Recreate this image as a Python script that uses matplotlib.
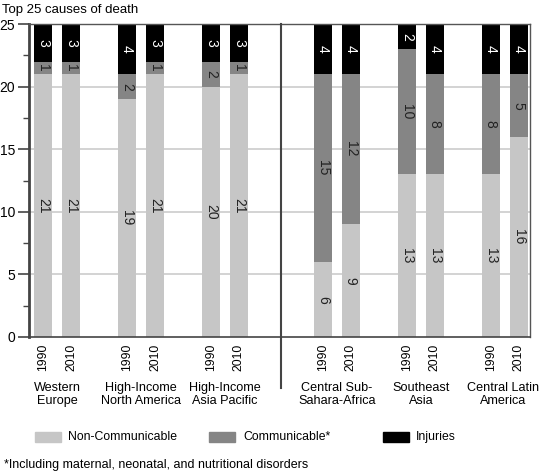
import matplotlib
matplotlib.use("Agg")
import matplotlib.pyplot as plt
from matplotlib.patches import Rectangle
from matplotlib.lines import Line2D
from matplotlib.ticker import MultipleLocator

plt.rcParams['font.family'] = ['Liberation Sans', 'DejaVu Sans']

regions = ["Western\nEurope", "High-Income\nNorth America", "High-Income\nAsia Pacific",
           "Central Sub-\nSahara-Africa", "Southeast\nAsia", "Central Latin\nAmerica"]
years = ["1990", "2010"]
non_comm = [21, 21, 19, 21, 20, 21, 6, 9, 13, 13, 13, 16]
comm = [1, 1, 2, 1, 2, 1, 15, 12, 10, 8, 8, 5]
injuries = [3, 3, 4, 3, 3, 3, 4, 4, 2, 4, 4, 4]
series_names = ["Non-Communicable", "Communicable*", "Injuries"]
colors = ["#c6c6c6", "#858585", "#000000"]
text_colors = ["#222222", "#222222", "#ffffff"]

positions = [0, 1, 3, 4, 6, 7, 10, 11, 13, 14, 16, 17]
group_centers = [0.5, 3.5, 6.5, 10.5, 13.5, 16.45]

fig = plt.figure(figsize=(5.4, 4.75), dpi=100)
ax = fig.add_axes([29/540, 1-337/475, (530-29)/540, (337-24)/475])

bottoms = [0]*len(positions)
for vals, c, tc in zip([non_comm, comm, injuries], colors, text_colors):
    ax.bar(positions, vals, width=0.65, bottom=bottoms, color=c, zorder=2)
    for x, v, b in zip(positions, vals, bottoms):
        ax.text(x, b + v/2, str(v), rotation=-90, ha='center', va='center',
                color=tc, fontsize=10, zorder=3)
    bottoms = [b + v for b, v in zip(bottoms, vals)]

ax.set_xlim(-0.5, 17.4)
ax.set_ylim(0, 25)
ax.yaxis.set_major_locator(MultipleLocator(5))
ax.yaxis.set_minor_locator(MultipleLocator(2.5))
for y in [5, 10, 15, 20]:
    ax.axhline(y, color="#cccccc", lw=1.2, zorder=1)

ax.set_xticks(positions)
ax.set_xticklabels(years * 6, rotation=90, fontsize=8.8)
ax.tick_params(axis='x', length=0, pad=5)
ax.tick_params(axis='y', which='major', length=8, width=1.2, color="#444444", labelsize=10, pad=2)
ax.tick_params(axis='y', which='minor', length=4, width=1, color="#444444")

ax.spines['left'].set_linewidth(2)
ax.spines['left'].set_color("#444444")
ax.spines['bottom'].set_linewidth(1.2)
ax.spines['bottom'].set_color("#444444")
for s in ['top', 'right']:
    ax.spines[s].set_linewidth(1)
    ax.spines[s].set_color("#555555")

# separator line
sep = Line2D([8.5, 8.5], [25, -4.05], color="#444444", lw=1.5, clip_on=False, zorder=4)
ax.add_line(sep)

# group labels
for gx, name in zip(group_centers, regions):
    ax.text(gx, -3.6, name, ha='center', va='top', fontsize=9.1, linespacing=1.12,
            transform=ax.transData)

fig.text(2/540, 1-10/475, "Top 25 causes of death", fontsize=9.5, ha='left', va='center')

# legend
leg_y = 1 - 437/475
for px, tx, c, name in zip([35, 209, 383], [68, 243, 416], colors, series_names):
    fig.patches.append(Rectangle((px/540, leg_y - 5/475), 26/540, 10/475,
                                 transform=fig.transFigure, color=c))
    fig.text(tx/540, leg_y, name, fontsize=8.8, ha='left', va='center')

fig.text(4/540, 1-465/475, "*Including maternal, neonatal, and nutritional disorders",
         fontsize=9, ha='left', va='center')

fig.savefig("out.png", dpi=100)
